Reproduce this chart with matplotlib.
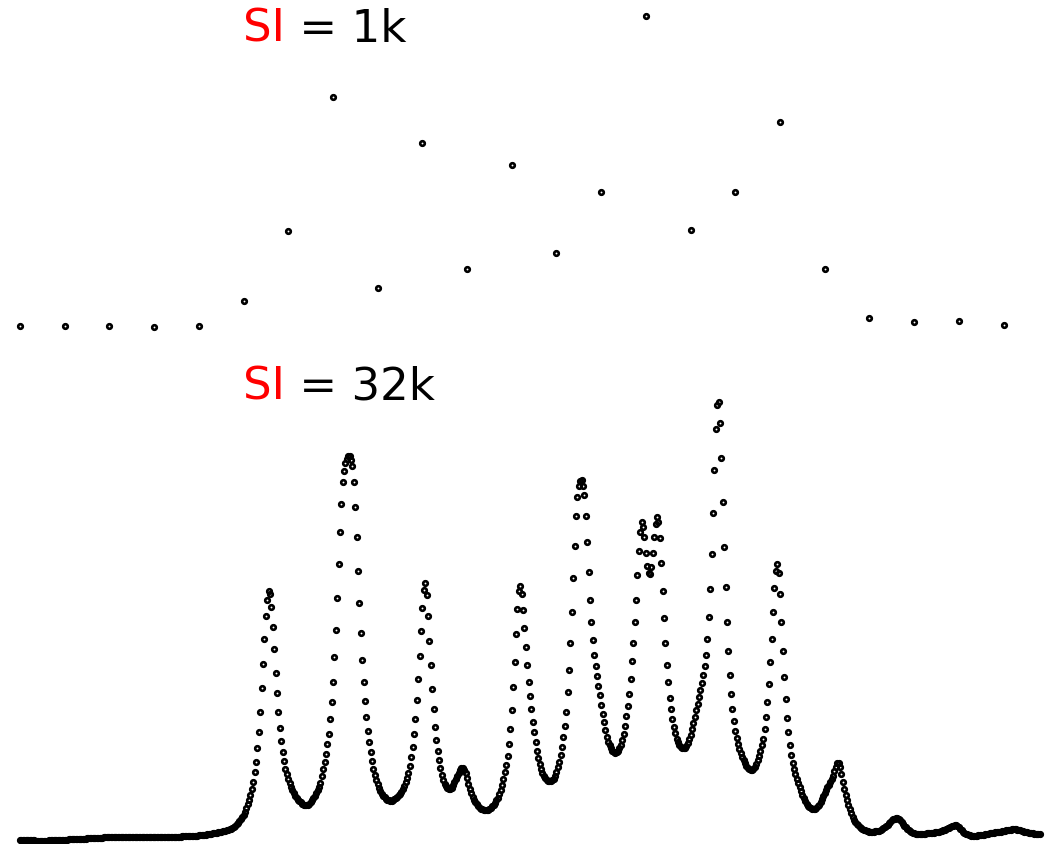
import numpy as np
import matplotlib.pyplot as plt

# intensita' dello spettro con SI = 1k (un valore per punto)
si_1k = [0.3, 0.3, 0.3, -1, 0.3, 25.3, 94.7, 229, 38, 182.7, 57, 161.3,
         73, 133.7, 309.7, 96, 133.7, 203.7, 57, 8, 4, 5, 1.3]

# intensita' dello stesso spettro con SI = 32k
si_32k = [
    0, 0, 0, -0.2, -0.3, -0.3, -0.2, 0, 0, -0.2, -0.4,
    -0.5, -0.6, -0.6, -0.5, -0.5, -0.6, -0.7, -0.7, -0.6, -0.5,
    -0.4, -0.3, -0.2, -0.2, -0.1, 0, 0.1, 0.2, 0.2, 0.2,
    0.2, 0.3, 0.4, 0.5, 0.6, 0.7, 0.8, 0.8, 0.9, 1,
    1, 1.1, 1.2, 1.3, 1.3, 1.4, 1.5, 1.6, 1.7, 1.8,
    1.9, 2, 2.1, 2.2, 2.3, 2.4, 2.4, 2.5, 2.5, 2.6,
    2.6, 2.7, 2.7, 2.7, 2.8, 2.8, 2.8, 2.9, 2.9, 2.9,
    3, 3, 3, 3, 3, 2.9, 2.9, 2.8, 2.8, 2.8,
    2.8, 2.8, 2.9, 3, 3.1, 3.2, 3.2, 3.3, 3.3, 3.3,
    3.3, 3.3, 3.3, 3.2, 3.2, 3.1, 3.1, 3, 3, 3,
    3, 3, 3, 3.1, 3.1, 3.2, 3.2, 3.2, 3.3, 3.3,
    3.3, 3.4, 3.4, 3.5, 3.5, 3.6, 3.7, 3.8, 3.9, 4,
    4, 4.1, 4.1, 4.2, 4.3, 4.4, 4.5, 4.6, 4.8, 4.9,
    5, 5.2, 5.4, 5.6, 5.8, 6, 6.3, 6.6, 6.9, 7.2,
    7.5, 7.8, 8.1, 8.4, 8.7, 9, 9.3, 9.7, 10.2, 10.8,
    11.5, 12.3, 13.2, 14.3, 15.6, 17, 18.7, 20.6, 22.8, 25.5,
    28.5, 32, 36, 40.5, 45.5, 51, 58, 68, 78, 92,
    108, 128, 152, 176, 201, 224, 240, 249, 246, 233,
    213, 191, 167, 147, 128, 112, 99, 88, 79, 71,
    66, 61, 57, 53, 50, 47, 44.5, 42.5, 40.5, 39,
    38, 36.5, 35.5, 35, 35, 35.5, 36.5, 38, 40, 42,
    44, 47, 50, 53, 57, 64, 71, 78, 86, 96,
    106, 121, 138, 158, 183, 210, 242, 276, 308, 336,
    358, 369, 377, 381, 384, 384, 380, 374, 358, 333,
    303, 269, 237, 207, 180, 158, 139, 123, 109, 98,
    88, 79, 71, 65, 60, 56, 52, 49, 46.5, 44.5,
    43, 41.5, 40.5, 40, 39.5, 39.5, 40, 41, 42, 43.5,
    45, 46.5, 48.5, 51, 54, 58, 62, 67, 74, 83,
    93, 106, 121, 140, 161, 184, 209, 232, 250, 257.5,
    245, 224, 199, 175, 151, 131, 113, 100, 89, 80,
    72, 65, 60, 56, 54, 52.5, 51.5, 51.5, 52.5, 55,
    58, 61, 64, 67, 70, 72, 72.5, 70.5, 67, 62,
    56, 51, 47, 43.5, 40.5, 38, 36, 34, 32.5, 31.5,
    30.7, 30.2, 30, 30, 30.5, 31.5, 32.5, 34, 35.5, 37.5,
    40, 42.5, 46, 50, 55, 61, 68, 75, 84, 96,
    111, 130, 153, 178, 206, 231, 249, 254, 246, 230,
    212, 193, 175, 158, 144, 131, 118, 108, 98, 89,
    82, 76, 71, 67, 64, 62, 60.5, 59.5, 59, 59,
    60, 61.5, 64, 68, 73, 78, 85, 93, 103, 114,
    128, 148, 170, 197, 228, 262, 294, 324, 343, 354,
    359.5, 360, 354, 345, 324, 298, 268, 240, 218, 200,
    185, 174, 164, 154, 145, 135, 126, 118, 110, 103,
    98.5, 95, 92, 89.5, 88, 87.5, 88, 89.5, 92, 95.5,
    100, 106, 114, 124, 134, 146, 161, 179, 197, 218,
    240, 265, 289, 308, 318, 313, 303, 287, 274, 267,
    266, 273, 287, 303, 316, 323, 318, 302, 277, 249,
    222, 197, 175, 158, 142, 131, 121, 113, 107, 101.5,
    98, 95.5, 93.5, 92.5, 92, 92.5, 94, 97, 101, 105.5,
    111, 117, 123, 130, 136, 143, 150, 157, 165, 174,
    185, 201, 223, 251, 286, 327, 370, 411, 435, 438,
    417, 382, 338, 293, 253, 218, 189, 165, 146, 131,
    119, 109, 102, 96, 91, 87, 83.5, 80, 77, 74.5,
    72.5, 71, 70, 70, 71, 73, 76, 80, 84.5, 89.5,
    95, 101, 111, 123, 138, 156, 178, 201, 228, 252,
    269, 276, 267, 246, 218, 189, 163, 141, 122, 108,
    95, 85, 77, 71, 66, 61, 57, 53, 49, 45,
    42, 39, 36.5, 34.5, 33, 32, 31.5, 31.2, 31.5, 32.5,
    34, 35.5, 38, 41, 44, 47, 50, 53, 55.5, 58,
    61, 64.5, 69, 73.5, 77, 77.5, 73.5, 66, 58, 51,
    45, 40, 35, 31, 27, 23.5, 20.5, 18.5, 16.5, 15,
    13.5, 12.5, 11.5, 10.5, 10, 9.5, 9, 8.5, 8.5, 8.5,
    8.5, 8.7, 9, 9.2, 9.5, 10, 11, 12, 13, 14.2,
    15.5, 17, 18.5, 20, 21, 21.5, 22, 22, 21.5, 20,
    18.5, 16.5, 14.5, 13, 11.5, 10, 9, 8, 7.5, 7,
    6.5, 6.2, 6, 6, 6, 6, 6.2, 6.4, 6.6, 6.8,
    7, 7, 7.2, 7.4, 7.6, 7.8, 8, 8.4, 8.8, 9.3,
    9.8, 10.4, 11, 11.6, 12.3, 13, 13.8, 14.5, 15, 15,
    14.3, 13, 11.3, 9.7, 8.3, 7.2, 6.3, 5.6, 5, 4.6,
    4.4, 4.3, 4.3, 4.4, 4.5, 4.7, 4.9, 5.1, 5.3, 5.5,
    5.8, 6, 6.3, 6.6, 6.9, 7.2, 7.5, 7.7, 7.9, 8.1,
    8.3, 8.5, 8.7, 9, 9.3, 9.6, 9.9, 10.2, 10.5, 10.8,
    11, 11, 10.8, 10.4, 10, 9.6, 9.2, 8.8, 8.4, 8,
    7.7, 7.4, 7.1, 6.8, 6.6, 6.4, 6.2, 6, 5.9, 5.8,
]

labels = ['1k', '32k']
zf = 32  # ogni punto del 1k corrisponde a 32 punti del 32k

x_1k = np.arange(len(si_1k)) * zf
x_32k = np.arange(len(si_32k))

W, H = 1052, 845
fig = plt.figure(figsize=(W / 100, H / 100), dpi=100)

# pannello in alto (SI = 1k)
ax1 = fig.add_axes([0, 1 - 340 / H, 1, 340 / H])
# pannello in basso (SI = 32k)
ax2 = fig.add_axes([0, 0, 1, 465 / H])

stile = dict(ls='none', marker='o', ms=3.3, mfc='none', mec='black',
             mew=1.9, clip_on=False)
ax1.plot(x_1k, si_1k, **stile)
ax2.plot(x_32k, si_32k, **stile)

for ax in (ax1, ax2):
    ax.set_xlim(-14.3, 738.7)
    ax.axis('off')
ax1.set_ylim(-13, 327)
ax2.set_ylim(-4, 461)

# etichette "SI = ..." con SI in rosso
for lab, ybase in zip(labels, [41.7, 400]):
    t = fig.text(243 / W, 1 - ybase / H, 'SI', color='red', fontsize=32.5,
                 va='baseline', ha='left')
    ax1.annotate(' = ' + lab, xy=(1, 0), xycoords=t, va='bottom', ha='left',
                 fontsize=32.5, color='black', annotation_clip=False)

fig.savefig('out.png', dpi=100)
